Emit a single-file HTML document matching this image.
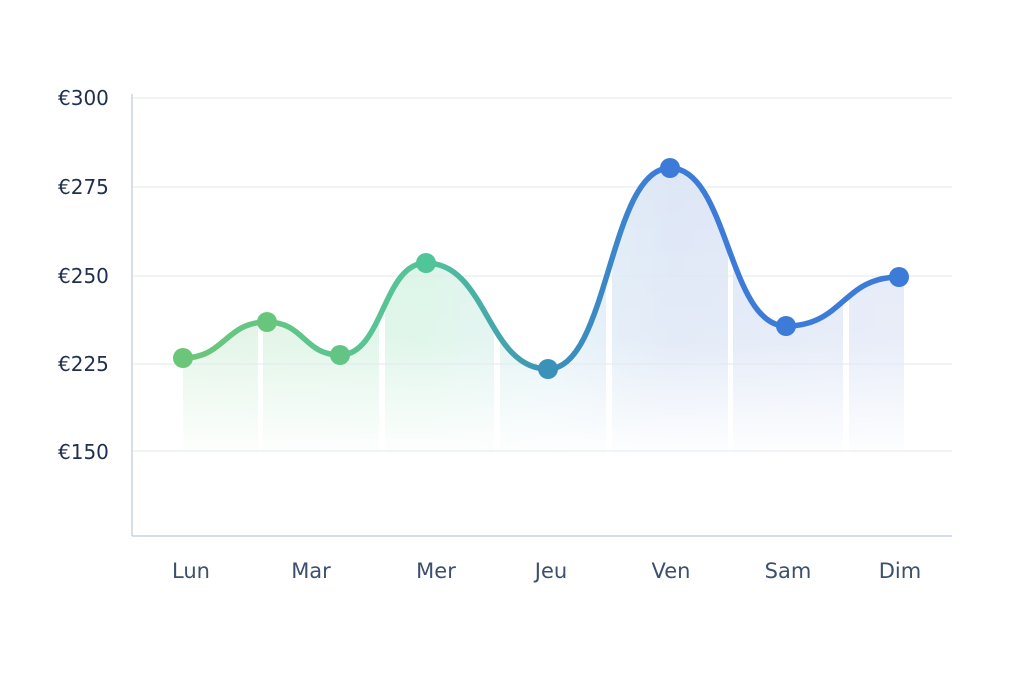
<!DOCTYPE html>
<html><head><meta charset="utf-8"><style>
html,body{margin:0;padding:0;background:#fff;}
svg{display:block;font-family:"Liberation Sans","DejaVu Sans",sans-serif;}
</style></head><body>
<svg width="1024" height="683" viewBox="0 0 1024 683" xmlns="http://www.w3.org/2000/svg">
<defs>
<linearGradient id="lg" x1="183" y1="0" x2="899" y2="0" gradientUnits="userSpaceOnUse">
<stop offset="0" stop-color="#6cc67a"/>
<stop offset="0.34" stop-color="#52c49a"/>
<stop offset="0.51" stop-color="#3b92b8"/>
<stop offset="0.68" stop-color="#3d7bd8"/>
<stop offset="1" stop-color="#3d7bd8"/>
</linearGradient>
<linearGradient id="fg" x1="183" y1="0" x2="899" y2="0" gradientUnits="userSpaceOnUse">
<stop offset="0" stop-color="#dff3e2"/>
<stop offset="0.34" stop-color="#d9f4e6"/>
<stop offset="0.51" stop-color="#e2f1f6"/>
<stop offset="0.68" stop-color="#dde6f6"/>
<stop offset="1" stop-color="#e3e9f7"/>
</linearGradient>
<linearGradient id="vg" x1="0" y1="160" x2="0" y2="460" gradientUnits="userSpaceOnUse">
<stop offset="0" stop-color="#fff" stop-opacity="1"/>
<stop offset="0.6" stop-color="#fff" stop-opacity="0.8"/>
<stop offset="1" stop-color="#fff" stop-opacity="0"/>
</linearGradient>
<mask id="m"><rect x="0" y="0" width="1024" height="683" fill="url(#vg)"/></mask>
</defs>
<rect width="1024" height="683" fill="#fff"/>
<g mask="url(#m)">
<path d="M183,358 C225,358 225,322 267,322 C304,322 304,355 340,355 C383,355 383,263 426,263 C487,263 487,369 548,369 C609,369 609,168 670,168 C728,168 728,326 786,326 C843,326 843,277 899,277 L904,277 L904,460 L183,460 Z" fill="url(#fg)"/>
</g>
<g fill="#fff">
<rect x="258" y="150" width="5" height="320"/>
<rect x="379" y="150" width="6" height="320"/>
<rect x="494" y="150" width="6" height="320"/>
<rect x="606" y="150" width="6" height="320"/>
<rect x="728" y="150" width="5" height="320"/>
<rect x="843" y="150" width="6" height="320"/>
</g>
<g stroke="#e3e8ef" stroke-width="1">
<line x1="132" y1="98" x2="952" y2="98"/>
<line x1="132" y1="187" x2="952" y2="187"/>
<line x1="132" y1="276" x2="952" y2="276"/>
<line x1="132" y1="364" x2="952" y2="364"/>
<line x1="132" y1="451" x2="952" y2="451"/>
</g>
<line x1="132" y1="94" x2="132" y2="536" stroke="#c9d3df" stroke-width="1.5"/>
<line x1="132" y1="536" x2="952" y2="536" stroke="#c9d3df" stroke-width="1.5"/>
<path d="M183,358 C225,358 225,322 267,322 C304,322 304,355 340,355 C383,355 383,263 426,263 C487,263 487,369 548,369 C609,369 609,168 670,168 C728,168 728,326 786,326 C843,326 843,277 899,277" fill="none" stroke="url(#lg)" stroke-width="5.5" stroke-linecap="round"/>
<circle cx="183" cy="358" r="10" fill="#6cc67a"/>
<circle cx="267" cy="322" r="10" fill="#68c67c"/>
<circle cx="340" cy="355" r="10" fill="#62c584"/>
<circle cx="426" cy="263" r="10" fill="#52c49a"/>
<circle cx="548" cy="369" r="10" fill="#3b92b8"/>
<circle cx="670" cy="168" r="10" fill="#3d7bd8"/>
<circle cx="786" cy="326" r="10" fill="#3d7bd8"/>
<circle cx="899" cy="277" r="10" fill="#3d7bd8"/>
<g fill="#1f2f4d" font-size="20" text-anchor="start" font-family="'DejaVu Sans',sans-serif">
<text x="58" y="105">€300</text>
<text x="58" y="194">€275</text>
<text x="58" y="283">€250</text>
<text x="58" y="371">€225</text>
<text x="58" y="459">€150</text>
</g>
<g fill="#3c4f6e" font-size="21" text-anchor="middle" font-family="'DejaVu Sans',sans-serif">
<text x="191" y="578">Lun</text>
<text x="311" y="578">Mar</text>
<text x="436" y="578">Mer</text>
<text x="551" y="578">Jeu</text>
<text x="671" y="578">Ven</text>
<text x="788" y="578">Sam</text>
<text x="900" y="578">Dim</text>
</g>
</svg>
</body></html>
